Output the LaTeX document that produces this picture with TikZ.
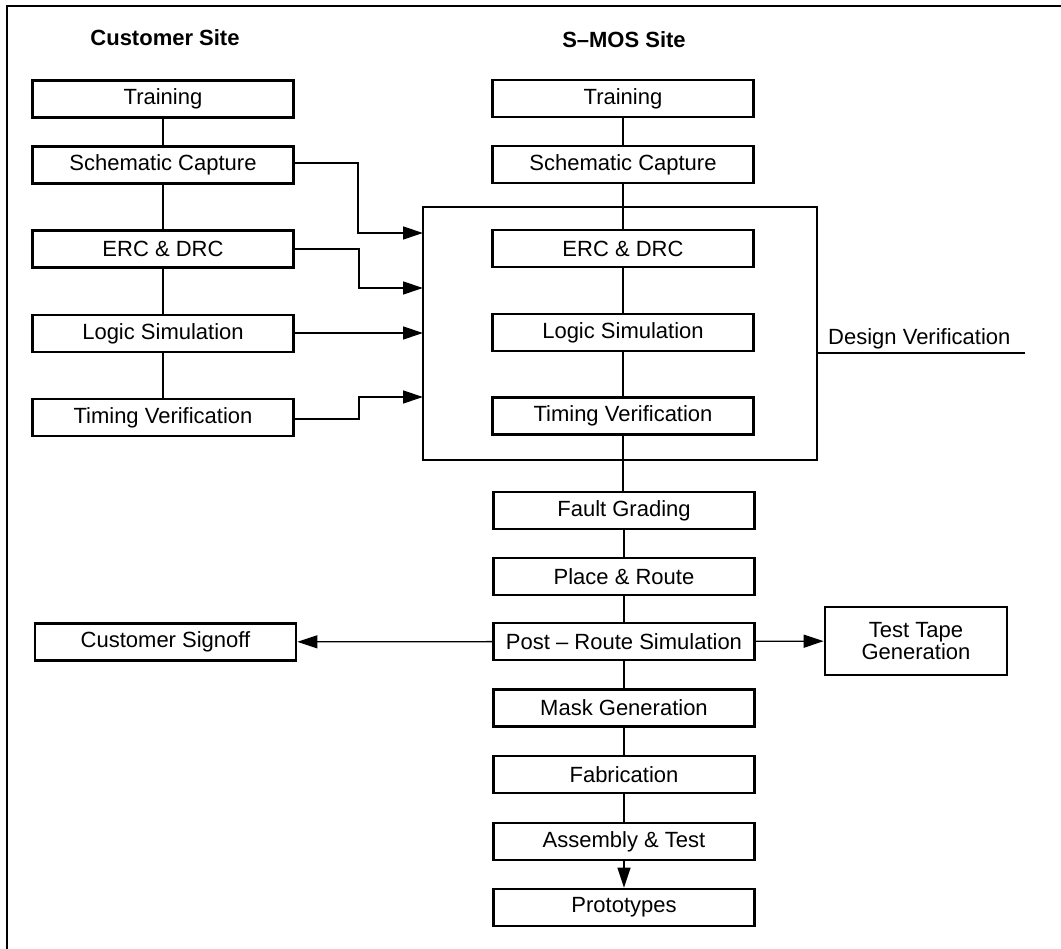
\documentclass[tikz,border=0pt]{standalone}
\usepackage{fontspec}
\setmainfont{Liberation Sans}
\usetikzlibrary{arrows.meta}
\begin{document}
\begin{tikzpicture}[x=1pt,y=-1pt,
  txt/.style={font=\fontsize{22}{22}\selectfont},
  stepbox/.style={draw, line width=2.6pt, minimum width=261pt, minimum height=37pt,
    inner sep=0pt, txt},
  link/.style={line width=1.3pt},
  arr/.style={link, -{Triangle[length=20pt,width=13pt]}},
  head/.style={font=\fontsize{22}{22}\selectfont\bfseries}]
\useasboundingbox (0,0) rectangle (1061,949);

% outer frame (top and left edges only)
\draw[line width=2pt] (7,949) -- (7,6) -- (1061,6);

% column headings
\node[head] (hcust) at (165,38) {Customer Site};
\node[head] (hsmos) at (624,40) {S--MOS Site};

% design verification enclosure
\node[draw, line width=1.4pt, minimum width=394pt, minimum height=253pt, inner sep=0pt]
  (dvbox) at (620,333.5) {};
\coordinate (dvend) at (1025,353);
\draw[link] (dvbox.east |- dvend) -- (dvend);
\node[txt, anchor=base west, inner sep=0pt] (dvlabel) at (828,345) {Design Verification};

% customer site column
\node[stepbox] (ltrain) at (163,99)    {Training};
\node[stepbox] (lsc)    at (163,165)   {Schematic Capture};
\node[stepbox] (lerc)   at (163,249)   {ERC \& DRC};
\node[stepbox] (llog)   at (163,333.5) {Logic Simulation};
\node[stepbox] (ltim)   at (163,417.5) {Timing Verification};
\node[stepbox] (signoff) at (165.5,642) {Customer Signoff};

% S-MOS site column
\node[stepbox] (rtrain) at (623,98.5)  {Training};
\node[stepbox] (rsc)    at (623,164.5) {Schematic Capture};
\node[stepbox] (rerc)   at (623,248.5) {ERC \& DRC};
\node[stepbox] (rlog)   at (623,332.5) {Logic Simulation};
\node[stepbox] (rtim)   at (623,416)   {Timing Verification};
\node[stepbox] (fault)  at (624,510.5) {Fault Grading};
\node[stepbox] (place)  at (624,576.5) {Place \& Route};
\node[stepbox] (post)   at (624,641.5) {Post -- Route Simulation};
\node[stepbox] (mask)   at (624,708)   {Mask Generation};
\node[stepbox] (fab)    at (624,774.5) {Fabrication};
\node[stepbox] (asm)    at (624,841.5) {Assembly \& Test};
\node[stepbox] (proto)  at (624,907.5) {Prototypes};
\node[stepbox, minimum width=182pt, minimum height=68pt, align=center]
  (ttg) at (916,641) {Test Tape\\Generation};

% vertical links, customer site
\draw[link] (ltrain) -- (lsc);
\draw[link] (lsc) -- (lerc);
\draw[link] (lerc) -- (llog);
\draw[link] (llog) -- (ltim);

% vertical links, S-MOS site
\draw[link] (rtrain) -- (rsc);
\draw[link] (rsc) -- (rerc);
\draw[link] (rerc) -- (rlog);
\draw[link] (rlog) -- (rtim);
\draw[link] (rtim.south) -- (fault.north -| rtim.south);
\draw[link] (fault) -- (place);
\draw[link] (place) -- (post);
\draw[link] (post) -- (mask);
\draw[link] (mask) -- (fab);
\draw[link] (fab) -- (asm);
\draw[arr] (asm) -- (proto);

% customer results fed into design verification
\coordinate (in1) at (423,233);
\coordinate (in2) at (423,288);
\coordinate (in3) at (423,333);
\coordinate (in4) at (423,397);
\draw[arr] (lsc.east |- 0,163) -- (358,163) |- (in1);
\draw[arr] (lerc.east) -- (359,249) |- (in2);
\draw[arr] (llog.east |- in3) -- (in3);
\draw[arr] (ltim.east |- 0,419) -- (359,419) |- (in4);

% post-route outputs
\draw[arr] (post) -- (signoff);
\draw[arr] (post) -- (ttg);
\end{tikzpicture}
\end{document}
